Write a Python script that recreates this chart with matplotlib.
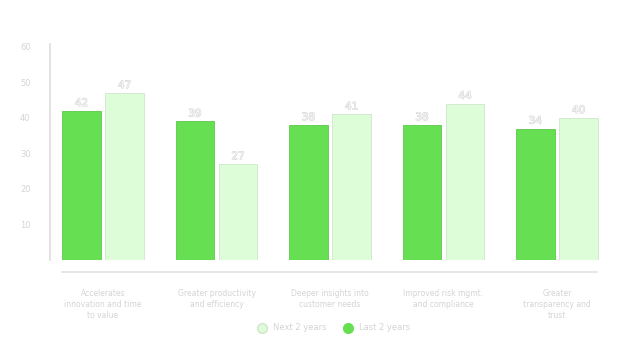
import numpy as np
import matplotlib
matplotlib.use("Agg")
import matplotlib.pyplot as plt
from matplotlib.lines import Line2D
import matplotlib.patheffects as pe

categories = [
    "Accelerates\ninnovation and time\nto value",
    "Greater productivity\nand efficiency",
    "Deeper insights into\ncustomer needs",
    "Improved risk mgmt.\nand compliance",
    "Greater\ntransparency and\ntrust",
]
last_2_years = [42, 39, 38, 38, 37]
next_2_years = [47, 27, 41, 44, 40]
last_labels = ["42", "39", "38", "38", "34"]
next_labels = ["47", "27", "41", "44", "40"]
y_ticks = [10, 20, 30, 40, 50, 60]

green = "#66e052"
light = "#ddfdd8"
text_col = "#d4d4d4"

fig = plt.figure(figsize=(6.4, 3.6), dpi=100)
ax = fig.add_axes([50 / 640, 100 / 360, 560 / 640, 216 / 360])

x = np.arange(len(categories))
w = 0.34
off = 0.19
b1 = ax.bar(x - off, last_2_years, w, color=green, edgecolor="#5cc94a", linewidth=0.6)
b2 = ax.bar(x + off, next_2_years, w, color=light, edgecolor="#cfe6cb", linewidth=0.6)

# value labels: white text with thin grey outline
for bars, labs in [(b1, last_labels), (b2, next_labels)]:
    for bar, lab in zip(bars, labs):
        ax.text(bar.get_x() + bar.get_width() / 2, bar.get_height() + 0.8, lab,
                ha="center", va="bottom", fontsize=7.5, color="#f6f6f6",
                path_effects=[pe.withStroke(linewidth=0.7, foreground="#d2d2d2")])

ax.set_xlim(-0.467, len(categories) - 1 + 0.467)
ax.set_ylim(0, 60.8)
ax.set_yticks(y_ticks)
ax.set_yticklabels([str(t) for t in y_ticks], fontsize=6, color=text_col)
ax.tick_params(axis="y", length=0, pad=14)
ax.set_xticks(x)
ax.set_xticklabels(categories, fontsize=5.5, color=text_col, linespacing=1.3)
ax.tick_params(axis="x", length=0, pad=21)

for s in ["top", "right", "bottom"]:
    ax.spines[s].set_visible(False)
ax.spines["left"].set_color("#dedede")
ax.spines["left"].set_linewidth(1.2)

# separate baseline under the bars
fig.add_artist(Line2D([62 / 640, 597 / 640], [1 - 272 / 360, 1 - 272 / 360],
                      color="#e2e2e2", linewidth=1.2))

handles = [
    Line2D([], [], marker="o", linestyle="", markersize=7, markerfacecolor=light,
           markeredgecolor="#cfe6cb", label="Next 2 years"),
    Line2D([], [], marker="o", linestyle="", markersize=7, markerfacecolor=green,
           markeredgecolor=green, label="Last 2 years"),
]
leg = fig.legend(handles=handles, loc="center", bbox_to_anchor=(332 / 640, 1 - 328 / 360),
                 ncol=2, frameon=False, fontsize=6, handletextpad=0.3, columnspacing=1.6)
for t in leg.get_texts():
    t.set_color(text_col)

fig.savefig("out.png", dpi=100)
